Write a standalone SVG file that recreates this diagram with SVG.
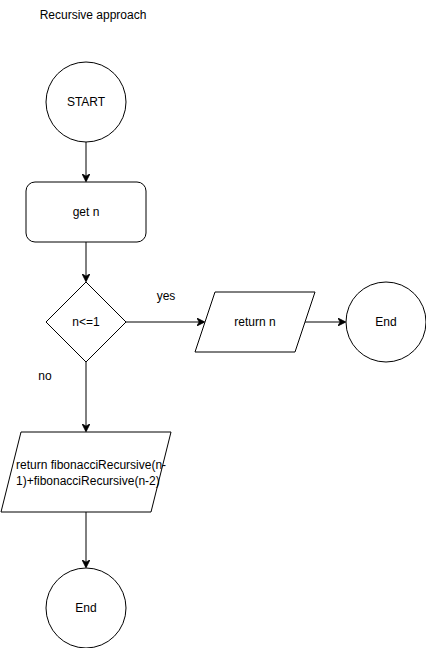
<svg xmlns="http://www.w3.org/2000/svg" width="426" height="648" viewBox="0 0 426 648">
  <style>
    .shape { fill: #ffffff; stroke: #000000; stroke-width: 1; }
    .edge { fill: none; stroke: #000000; stroke-width: 1; }
    text { font-family: "Liberation Sans", Arial, sans-serif; font-size: 12px; fill: #000000; }
    .c { text-anchor: middle; dominant-baseline: central; }
  </style>
  <defs>
    <marker id="arrow" viewBox="0 0 10 10" refX="9" refY="5" markerWidth="8" markerHeight="8" markerUnits="userSpaceOnUse" orient="auto">
      <path d="M0,0 L10,5 L0,10 L3,5 Z" fill="#000000" stroke="#000000" stroke-width="1"/>
    </marker>
  </defs>
  <rect width="426" height="648" fill="#ffffff"/>

  <text id="title" x="93" y="15" class="c">Recursive approach</text>

  <g id="connectors">
    <path class="edge" d="M86,142 L86,181" marker-end="url(#arrow)"/>
    <path class="edge" d="M86,242 L86,281" marker-end="url(#arrow)"/>
    <path class="edge" d="M126,322 L204,322" marker-end="url(#arrow)"/>
    <path class="edge" d="M305,322 L345,322" marker-end="url(#arrow)"/>
    <path class="edge" d="M86,362 L86,431" marker-end="url(#arrow)"/>
    <path class="edge" d="M86,512 L86,567" marker-end="url(#arrow)"/>
    <text x="166" y="296" class="c">yes</text>
    <text x="45" y="376" class="c">no</text>
  </g>

  <g id="start">
    <circle class="shape" cx="86" cy="102" r="40"/>
    <text x="86" y="102" class="c">START</text>
  </g>

  <g id="get-n">
    <rect class="shape" x="26" y="182" width="120" height="60" rx="9" ry="9"/>
    <text x="86" y="212" class="c">get n</text>
  </g>

  <g id="check">
    <polygon class="shape" points="86,282 126,322 86,362 46,322"/>
    <text x="86" y="322" class="c">n&lt;=1</text>
  </g>

  <g id="return-n">
    <polygon class="shape" points="215,292 315,292 295,352 195,352"/>
    <text x="255" y="322" class="c">return n</text>
  </g>

  <g id="end-right">
    <circle class="shape" cx="386" cy="322" r="40"/>
    <text x="386" y="322" class="c">End</text>
  </g>

  <g id="return-recursive">
    <polygon class="shape" points="21,432 171,432 151,512 1,512"/>
    <text x="16" y="465" dominant-baseline="central">return fibonacciRecursive(n-</text>
    <text x="16" y="481" dominant-baseline="central">1)+fibonacciRecursive(n-2)</text>
  </g>

  <g id="end-bottom">
    <circle class="shape" cx="86" cy="608" r="40"/>
    <text x="86" y="608" class="c">End</text>
  </g>
</svg>
